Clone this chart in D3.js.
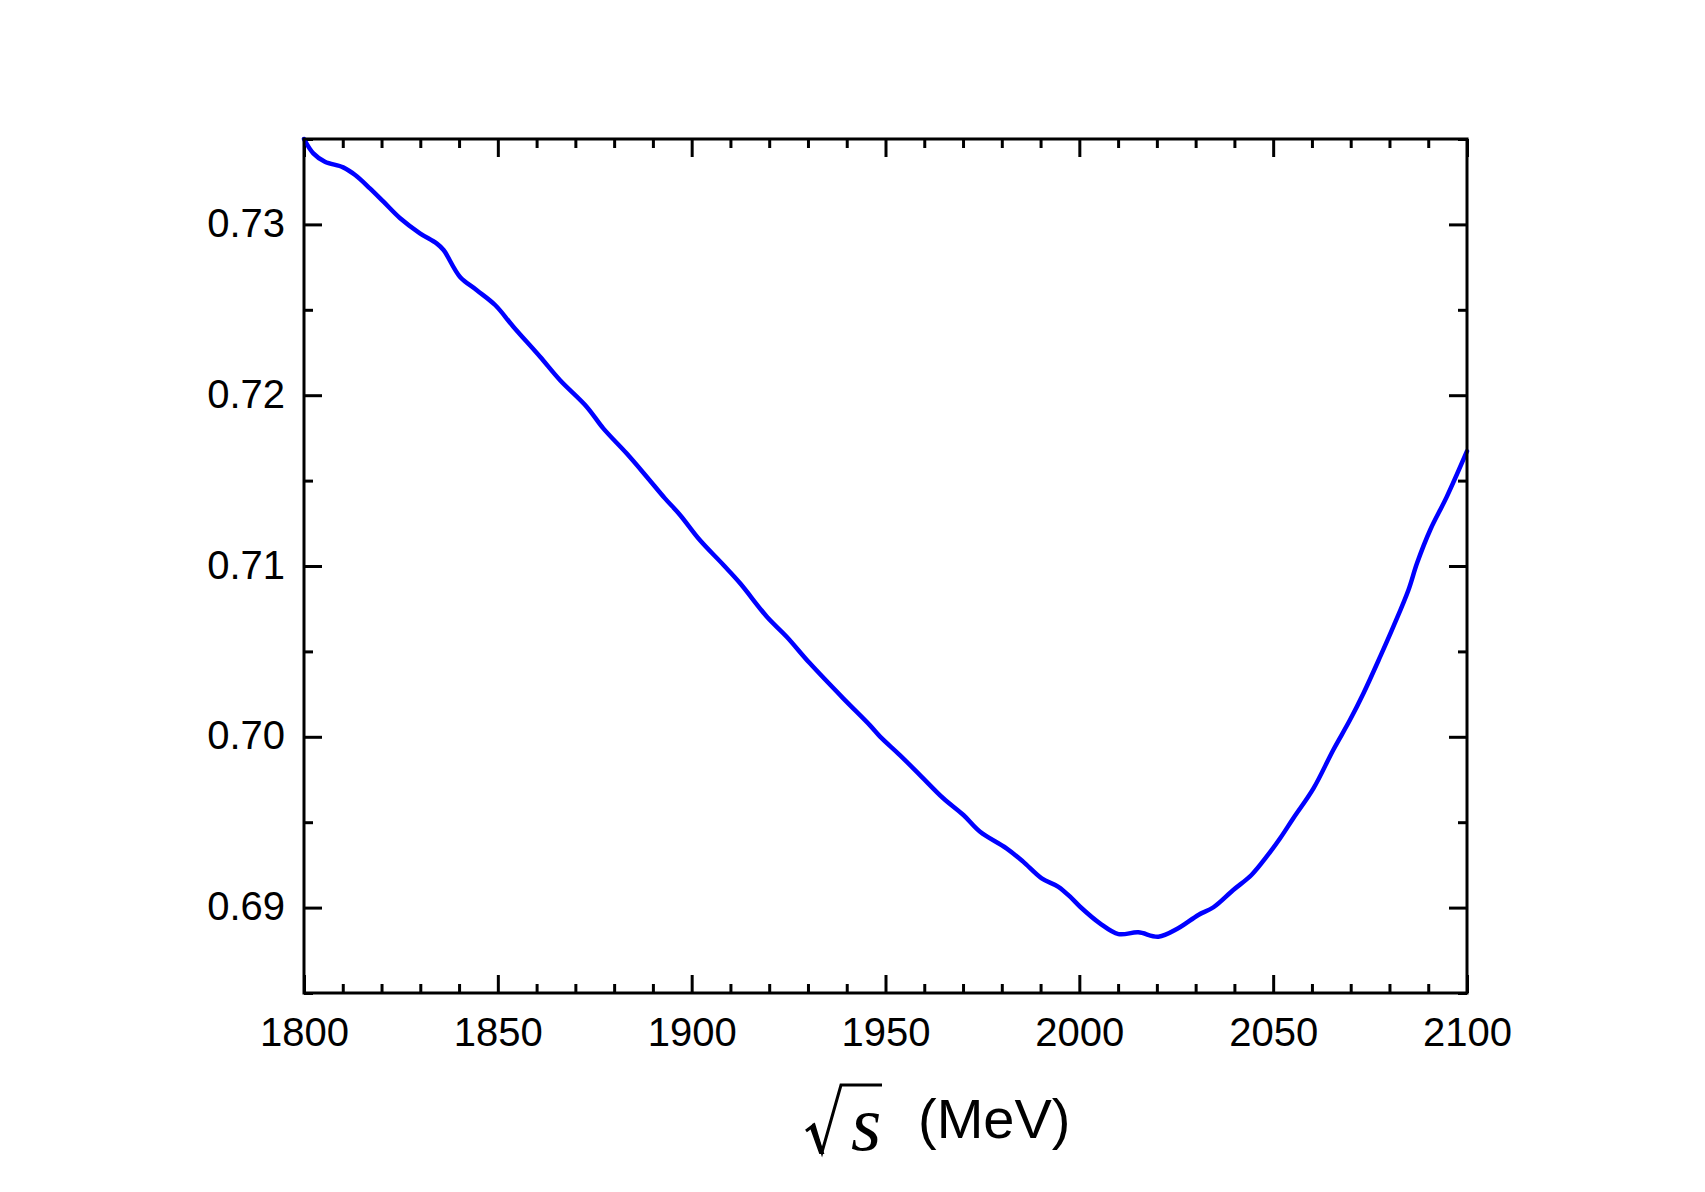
<!DOCTYPE html>
<html>
<head>
<meta charset="utf-8">
<script src="https://cdn.jsdelivr.net/npm/d3@7"></script>
<style>
  html, body { margin: 0; padding: 0; background: #fff; }
  svg { display: block; }
</style>
</head>
<body>
<script>
// ---- data ----
const energyMeV = [1800, 1802.4, 1805.4, 1810.1, 1813.2, 1817.0, 1820.5, 1824.8, 1829.9, 1834.2,
  1836.0, 1840.2, 1844.5, 1849.3, 1854.0, 1860.9, 1866.0, 1872.9, 1877.2, 1883.2,
  1888.4, 1893.1, 1897.0, 1902.1, 1908.2, 1912.5, 1919.4, 1924.5, 1930.5, 1939.1,
  1946.0, 1948.6, 1953.7, 1958.9, 1964.9, 1970.1, 1974.4, 1981.2, 1985.5, 1990.3,
  1994.6, 1998.0, 2000.2, 2005.3, 2010.1, 2015.2, 2020.4, 2025.5, 2030.7, 2034.6,
  2039.7, 2044.4, 2048.3, 2051.8, 2055.2, 2060.4, 2065.5, 2069.8, 2073.3, 2077.6,
  2081.0, 2084.9, 2087.1, 2090.5, 2094.8, 2100.0];
const ratioValues = [0.73500, 0.73416, 0.73367, 0.73334, 0.73289, 0.73211, 0.73133, 0.73036, 0.72948, 0.72889,
  0.72850, 0.72694, 0.72616, 0.72528, 0.72401, 0.72225, 0.72089, 0.71933, 0.71806, 0.71660,
  0.71523, 0.71396, 0.71299, 0.71152, 0.71006, 0.70899, 0.70703, 0.70586, 0.70430, 0.70225,
  0.70067, 0.70001, 0.69893, 0.69776, 0.69640, 0.69542, 0.69444, 0.69347, 0.69269, 0.69171,
  0.69122, 0.69055, 0.69005, 0.68908, 0.68845, 0.68855, 0.68830, 0.68879, 0.68957, 0.69002,
  0.69103, 0.69191, 0.69298, 0.69406, 0.69523, 0.69698, 0.69923, 0.70098, 0.70255, 0.70469,
  0.70645, 0.70860, 0.71016, 0.71211, 0.71406, 0.71672];
const xMajorTicks = [1800, 1850, 1900, 1950, 2000, 2050, 2100];
const xMinorTicks = d3.range(1800, 2101, 10);
const yMajorTicks = [0.69, 0.70, 0.71, 0.72, 0.73];
const yMajorLabels = ["0.69", "0.70", "0.71", "0.72", "0.73"];
const yMinorTicks = [0.685, 0.695, 0.705, 0.715, 0.725, 0.735];
const xDomain = [1800, 2100];
const yDomain = [0.685, 0.735];
const xTitle = "(MeV)";

// ---- layout ----
const W = 1705, H = 1192;
const L = 304, R = 1467, T = 139, B = 993;

const svg = d3.select("body").append("svg").attr("width", W).attr("height", H);

const x = d3.scaleLinear().domain(xDomain).range([L, R]);
const y = d3.scaleLinear().domain(yDomain).range([B, T]);

const fontSans = "'Liberation Sans', Arial, Helvetica, sans-serif";

function styleAxis(g) {
  g.select(".domain").remove();
  g.selectAll(".tick line").attr("stroke", "#000").attr("stroke-width", 3);
  g.selectAll(".tick text").attr("font-family", fontSans).attr("font-size", 40).attr("fill", "#000");
}

// bottom axis: major with labels
svg.append("g").attr("transform", `translate(0,${B})`)
  .call(d3.axisBottom(x).tickValues(xMajorTicks).tickSizeInner(-18).tickSizeOuter(0)
        .tickPadding(0).tickFormat(d3.format("d")))
  .call(styleAxis)
  .call(g => g.selectAll(".tick text").attr("y", 53).attr("dy", 0));
svg.append("g").attr("transform", `translate(0,${B})`)
  .call(d3.axisBottom(x).tickValues(xMinorTicks.filter(v => v % 50 !== 0)).tickSizeInner(-9).tickSizeOuter(0).tickFormat(""))
  .call(styleAxis);
// top axis
svg.append("g").attr("transform", `translate(0,${T})`)
  .call(d3.axisTop(x).tickValues(xMajorTicks).tickSizeInner(-18).tickSizeOuter(0).tickFormat(""))
  .call(styleAxis);
svg.append("g").attr("transform", `translate(0,${T})`)
  .call(d3.axisTop(x).tickValues(xMinorTicks.filter(v => v % 50 !== 0)).tickSizeInner(-9).tickSizeOuter(0).tickFormat(""))
  .call(styleAxis);
// left axis
svg.append("g").attr("transform", `translate(${L},0)`)
  .call(d3.axisLeft(y).tickValues(yMajorTicks).tickSizeInner(-18).tickSizeOuter(0)
        .tickFormat((d, i) => yMajorLabels[i]))
  .call(styleAxis)
  .call(g => g.selectAll(".tick text").attr("x", -19).attr("dy", 12).attr("text-anchor", "end"));
svg.append("g").attr("transform", `translate(${L},0)`)
  .call(d3.axisLeft(y).tickValues(yMinorTicks).tickSizeInner(-9).tickSizeOuter(0).tickFormat(""))
  .call(styleAxis);
// right axis
svg.append("g").attr("transform", `translate(${R},0)`)
  .call(d3.axisRight(y).tickValues(yMajorTicks).tickSizeInner(-18).tickSizeOuter(0).tickFormat(""))
  .call(styleAxis);
svg.append("g").attr("transform", `translate(${R},0)`)
  .call(d3.axisRight(y).tickValues(yMinorTicks).tickSizeInner(-9).tickSizeOuter(0).tickFormat(""))
  .call(styleAxis);

// curve
const data = energyMeV.map((e, i) => ({ e, v: ratioValues[i] }));
svg.append("path")
  .datum(data)
  .attr("fill", "none")
  .attr("stroke", "#0000ff")
  .attr("stroke-width", 4.5)
  .attr("stroke-linejoin", "round")
  .attr("stroke-linecap", "round")
  .attr("d", d3.line().x(d => x(d.e)).y(d => y(d.v)).curve(d3.curveCatmullRom.alpha(0.5)));

// frame
svg.append("rect")
  .attr("x", L).attr("y", T).attr("width", R - L).attr("height", B - T)
  .attr("fill", "none").attr("stroke", "#000").attr("stroke-width", 3);

// x axis title: sqrt(s) (MeV)
const tg = svg.append("g");
tg.append("path")
  .attr("d", "M806,1131 L814,1125 L822,1152 L841,1085 L882,1085")
  .attr("fill", "none").attr("stroke", "#000").attr("stroke-width", 3)
  .attr("stroke-linejoin", "miter");
tg.append("path")
  .attr("d", "M813,1125 L823,1153 L820,1153 L811,1128 Z")
  .attr("fill", "#000").attr("stroke", "#000").attr("stroke-width", 2);
tg.append("text")
  .attr("x", 851).attr("y", 1150)
  .attr("font-family", "'Liberation Serif', 'Times New Roman', serif")
  .attr("font-style", "italic")
  .attr("font-size", 78)
  .text("s");
tg.append("text")
  .attr("x", 918).attr("y", 1138)
  .attr("font-family", fontSans)
  .attr("font-size", 56)
  .text(xTitle);
</script>
</body>
</html>
